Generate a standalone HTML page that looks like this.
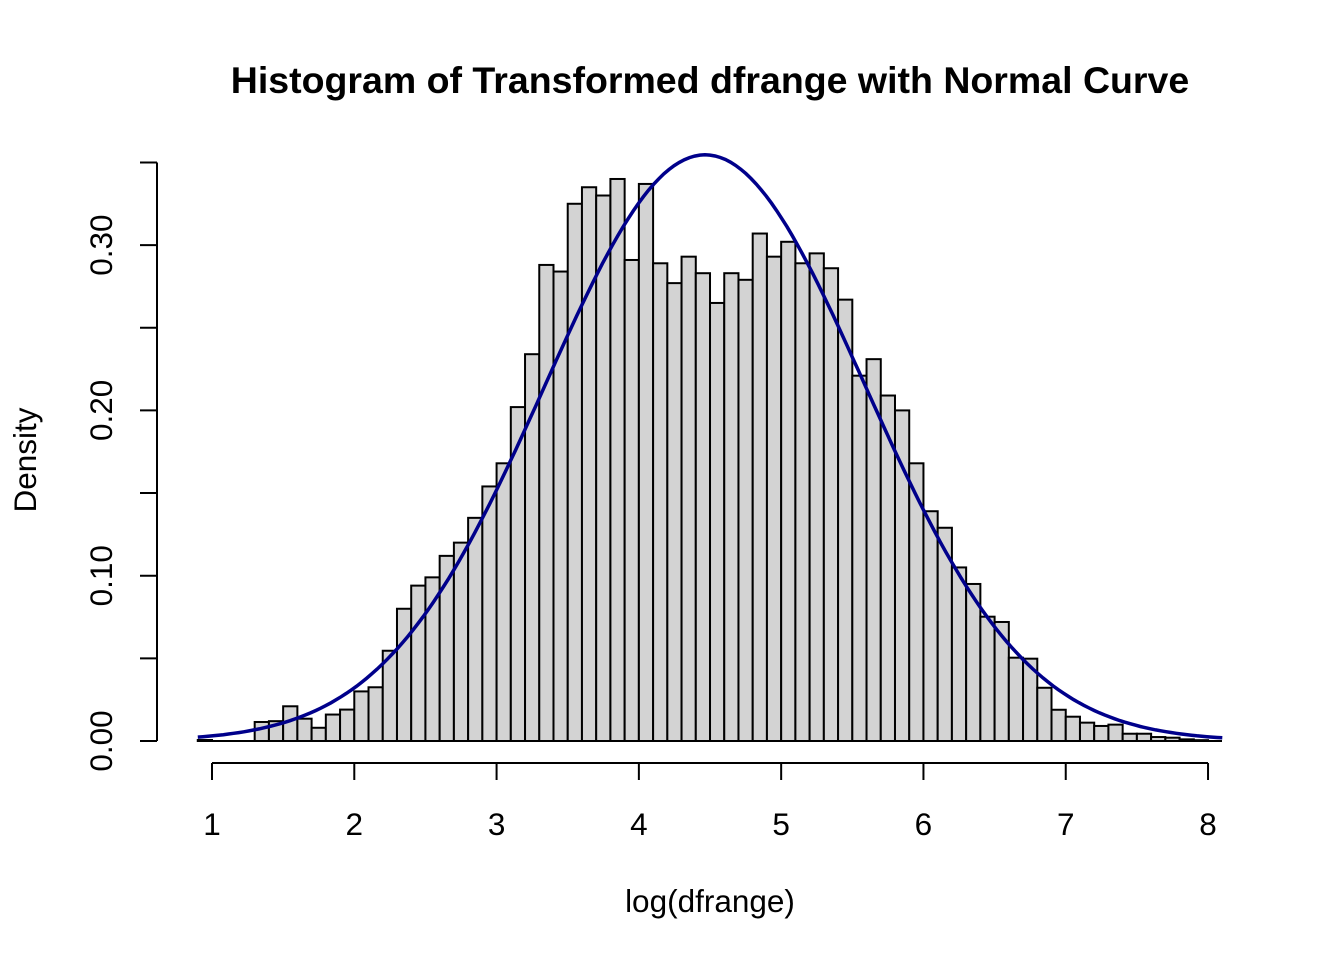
<!DOCTYPE html>
<html><head><meta charset="utf-8"><style>body{margin:0;background:#fff}svg{display:block}text{font-family:"Liberation Sans",sans-serif;fill:#000}</style></head>
<body>
<svg id="chart" width="1344" height="960" xmlns="http://www.w3.org/2000/svg">
<text x="710" y="93" font-size="37.5" font-weight="bold" text-anchor="middle">Histogram of Transformed dfrange with Normal Curve</text>
<text x="710" y="912" font-size="31.5" text-anchor="middle">log(dfrange)</text>
<text x="0" y="0" font-size="31.5" text-anchor="middle" transform="translate(36,460) rotate(-90)">Density</text>
<g id="bars"></g><g id="axes"></g><path id="curve" fill="none" stroke="#00008B" stroke-width="3.5"/>
</svg>
<script>
const binStart = 0.9;
const binWidth = 0.1;
const densities = [0.0006,0,0,0,0.0115,0.012,0.021,0.0135,0.008,0.016,0.019,0.030,0.0325,0.0546,0.080,0.094,0.099,0.112,0.120,0.135,0.154,0.168,0.202,0.234,0.288,0.284,0.325,0.335,0.330,0.340,0.291,0.337,0.289,0.277,0.293,0.283,0.265,0.283,0.279,0.307,0.293,0.302,0.289,0.295,0.286,0.267,0.221,0.231,0.209,0.200,0.168,0.139,0.129,0.105,0.095,0.0752,0.072,0.0504,0.0498,0.0322,0.0189,0.0147,0.0111,0.0091,0.0099,0.0044,0.0044,0.0024,0.002,0.001,0.0005];
const xTicks = [1,2,3,4,5,6,7,8];
const yTicks = [0,0.05,0.10,0.15,0.20,0.25,0.30,0.35];
const yLabels = ["0.00","","0.10","","0.20","","0.30",""];
const curveMean = 4.465;
const curveSd = 1.125;
const curveRange = [0.9, 8.1];
const X = v => 212 + (v - 1) * 142.29;
const Y = v => 741 - v * 1653;
const NS = "http://www.w3.org/2000/svg";
const mk = (t, a, p) => { const e = document.createElementNS(NS, t); for (const k in a) e.setAttribute(k, a[k]); p.appendChild(e); return e; };
const bars = document.getElementById('bars');
densities.forEach((d, i) => {
  if (d <= 0) return;
  const x0 = binStart + i * binWidth;
  const r = mk('rect', {x: X(x0), y: Y(d), width: X(x0 + binWidth) - X(x0), height: Y(0) - Y(d), fill: '#D3D3D3', stroke: '#000', 'stroke-width': 2}, bars);
  
  
});
mk('line', {x1: 197, x2: 1222, y1: 741, y2: 741, stroke: '#000', 'stroke-width': 2}, bars);
const axes = document.getElementById('axes');
const xa = mk('line', {x1: X(xTicks[0]), x2: X(xTicks[xTicks.length-1]), y1: 763, y2: 763, stroke: '#000', 'stroke-width': 2}, axes);


xTicks.forEach(t => {
  mk('line', {x1: X(t), x2: X(t), y1: 763, y2: 780, stroke: '#000', 'stroke-width': 2}, axes);
  const tx = mk('text', {x: X(t), y: 835, 'font-size': 31.5, 'text-anchor': 'middle'}, axes);
  tx.textContent = t;
  
  
});
const ya = mk('line', {x1: 157, x2: 157, y1: Y(yTicks[0]), y2: Y(yTicks[yTicks.length-1]), stroke: '#000', 'stroke-width': 2}, axes);


yTicks.forEach((t, i) => {
  mk('line', {x1: 140, x2: 157, y1: Y(t), y2: Y(t), stroke: '#000', 'stroke-width': 2}, axes);
  if (yLabels[i]) {
    const tx = mk('text', {x: 0, y: 0, 'font-size': 31.5, 'text-anchor': 'middle', transform: `translate(112,${Y(t)}) rotate(-90)`}, axes);
    tx.textContent = yLabels[i];
    
    
  }
});
let d = '';
for (let k = 0; k <= 200; k++) {
  const v = curveRange[0] + (curveRange[1] - curveRange[0]) * k / 200;
  const p = Math.exp(-0.5 * ((v - curveMean) / curveSd) ** 2) / (curveSd * Math.sqrt(2 * Math.PI));
  d += (k ? 'L' : 'M') + X(v).toFixed(1) + ',' + Y(p).toFixed(1);
}
document.getElementById('curve').setAttribute('d', d);
</script>
</body></html>
